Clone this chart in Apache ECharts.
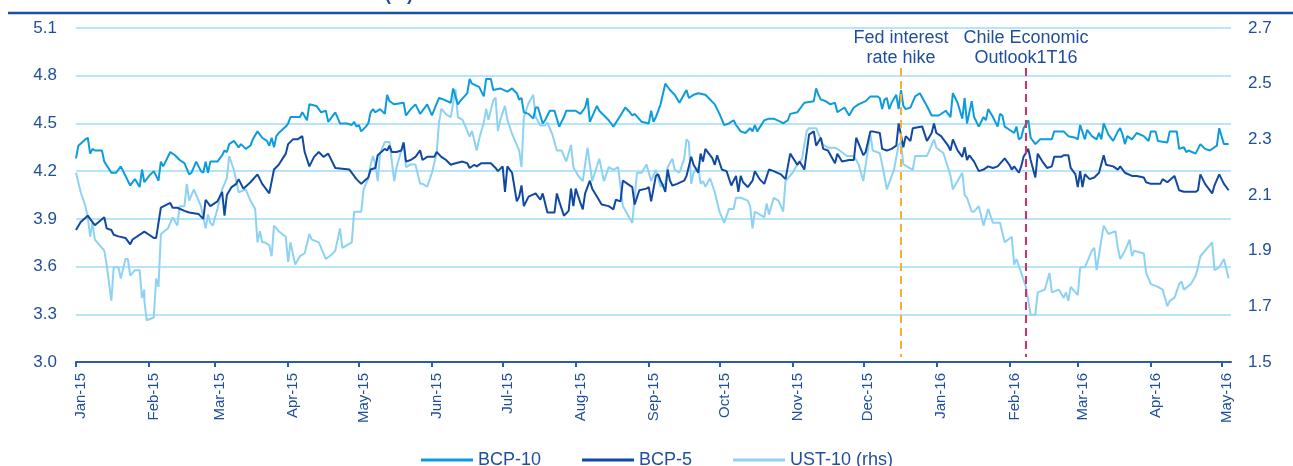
<!DOCTYPE html>
<html>
<head>
<meta charset="utf-8">
<script src="https://cdn.jsdelivr.net/npm/echarts@6/dist/echarts.min.js"></script>
<style>
  html, body { margin: 0; padding: 0; background: #fff; }
  #chart { width: 1293px; height: 466px; }
</style>
</head>
<body>
<div id="chart"></div>
<script>
// x of every point = days since 1 Jan 2015
const bcp10 = [
  [0,4.28],[1,4.36],[4,4.40],[5,4.41],[6,4.31],[7,4.34],[8,4.33],[11,4.33],[12,4.26],[15,4.19],[17,4.19],[19,4.23],[20,4.20],[23,4.11],[25,4.15],[27,4.10],[28,4.21],[29,4.13],[31,4.17],[33,4.20],[35,4.14],[36,4.26],[37,4.23],[40,4.32],[42,4.30],[44,4.27],[46,4.25],[48,4.18],[49,4.19],[51,4.26],[53,4.20],[54,4.19],[55,4.26],[56,4.19],[57,4.26],[60,4.26],[62,4.30],[63,4.33],[64,4.32],[65,4.37],[67,4.39],[69,4.35],[70,4.37],[72,4.34],[74,4.36],[75,4.40],[77,4.45],[79,4.41],[81,4.39],[82,4.36],[83,4.41],[84,4.35],[85,4.42],[86,4.44],[89,4.48],[90,4.50],[91,4.54],[95,4.54],[96,4.57],[98,4.52],[99,4.62],[102,4.61],[104,4.57],[106,4.58],[107,4.51],[110,4.57],[112,4.50],[115,4.50],[117,4.49],[118,4.51],[119,4.48],[120,4.49],[121,4.45],[123,4.48],[124,4.50],
  [125,4.57],[126,4.59],[127,4.57],[129,4.59],[131,4.56],[132,4.68],[133,4.64],[134,4.63],[135,4.62],[139,4.63],[140,4.55],[142,4.59],[144,4.62],[146,4.56],[149,4.62],[151,4.55],[154,4.66],[156,4.65],[159,4.63],[160,4.72],[162,4.62],[163,4.64],[166,4.69],[167,4.78],[168,4.75],[171,4.73],[173,4.67],[174,4.78],[176,4.78],[177,4.71],[180,4.72],[183,4.70],[185,4.72],[187,4.69],[188,4.65],[189,4.66],[190,4.57],[192,4.56],[194,4.53],[195,4.60],[196,4.60],[198,4.50],[199,4.52],[201,4.58],[203,4.58],[205,4.48],[207,4.54],[208,4.58],[212,4.58],[214,4.56],[216,4.60],[217,4.66],[218,4.51],[221,4.61],[222,4.58],[226,4.52],[228,4.48],[231,4.55],[233,4.60],[235,4.57],[236,4.55],[237,4.56],[240,4.51],[243,4.50],[244,4.58],[245,4.51],[246,4.54],[248,4.62],
  [250,4.75],[252,4.71],[254,4.68],[256,4.63],[259,4.71],[260,4.66],[262,4.68],[264,4.69],[267,4.68],[269,4.65],[271,4.62],[273,4.56],[275,4.49],[277,4.50],[279,4.52],[280,4.49],[282,4.45],[284,4.44],[286,4.47],[287,4.45],[288,4.49],[289,4.45],[292,4.52],[294,4.53],[296,4.53],[299,4.51],[300,4.50],[302,4.52],[303,4.56],[306,4.57],[309,4.63],[313,4.64],[314,4.72],[315,4.68],[316,4.65],[318,4.64],[320,4.62],[322,4.63],[323,4.57],[326,4.60],[328,4.55],[330,4.60],[332,4.62],[335,4.64],[337,4.67],[340,4.67],[341,4.66],[342,4.59],[343,4.65],[344,4.66],[345,4.59],[346,4.63],[348,4.68],[349,4.59],[350,4.71],[351,4.61],[352,4.59],[354,4.60],[356,4.67],[358,4.69],[361,4.61],[363,4.55],[366,4.55],[369,4.58],[371,4.54],
  [372,4.69],[374,4.63],[376,4.53],[377,4.66],[378,4.50],[380,4.64],[381,4.54],[383,4.48],[385,4.54],[386,4.52],[387,4.59],[389,4.54],[391,4.48],[392,4.56],[393,4.55],[394,4.48],[396,4.46],[398,4.44],[399,4.48],[400,4.40],[401,4.41],[402,4.47],[404,4.52],[405,4.41],[407,4.37],[409,4.40],[414,4.40],[415,4.45],[419,4.45],[421,4.42],[424,4.41],[425,4.40],[426,4.49],[428,4.40],[429,4.46],[431,4.42],[433,4.40],[434,4.44],[435,4.40],[436,4.50],[438,4.43],[440,4.39],[442,4.45],[443,4.47],[444,4.43],[445,4.37],[446,4.42],[448,4.40],[450,4.44],[453,4.42],[455,4.39],[456,4.45],[458,4.45],[459,4.39],[463,4.38],[464,4.45],[467,4.45],[468,4.34],[470,4.35],[471,4.32],[472,4.33],[475,4.31],[477,4.37],[479,4.34],[481,4.33],[484,4.36],[485,4.47],[487,4.37],[489,4.37]
];
const bcp5 = [
  [0,3.83],[2,3.88],[5,3.92],[6,3.90],[7,3.88],[8,3.86],[12,3.91],[13,3.84],[15,3.83],[16,3.80],[18,3.79],[21,3.78],[23,3.74],[24,3.77],[29,3.82],[31,3.80],[33,3.78],[34,3.78],[36,3.97],[40,4.00],[41,3.97],[43,3.97],[46,3.95],[48,3.94],[52,3.93],[54,3.90],[55,4.02],[57,3.98],[60,4.01],[62,4.07],[63,3.92],[64,4.05],[66,4.10],[68,4.12],[69,4.15],[71,4.09],[74,4.13],[77,4.18],[79,4.12],[82,4.06],[84,4.21],[86,4.24],[89,4.31],[90,4.37],[92,4.40],[94,4.40],[96,4.42],[97,4.32],[99,4.23],[101,4.29],[103,4.32],[105,4.29],[107,4.31],[110,4.22],[116,4.21],[119,4.15],[121,4.12],[124,4.16],
  [125,4.21],[127,4.22],[128,4.30],[131,4.34],[132,4.33],[133,4.36],[134,4.32],[136,4.32],[138,4.33],[139,4.38],[140,4.26],[142,4.27],[144,4.29],[146,4.33],[147,4.27],[149,4.29],[152,4.29],[153,4.32],[155,4.29],[157,4.27],[159,4.24],[161,4.25],[164,4.26],[166,4.25],[167,4.22],[169,4.24],[170,4.23],[172,4.25],[176,4.25],[178,4.22],[179,4.20],[181,4.23],[182,4.07],[183,4.23],[185,4.19],[187,4.01],[188,4.04],[189,4.11],[190,3.98],[192,4.04],[195,4.06],[197,4.02],[198,4.06],[200,3.94],[202,3.94],[203,3.94],[204,4.06],[205,4.01],[207,3.92],[209,3.95],[210,4.09],[211,3.98],[212,4.09],[214,4.00],[215,3.96],[216,4.06],[218,4.14],[219,4.09],[221,4.04],[223,3.99],[226,3.98],[228,3.96],[229,4.02],[231,4.01],[232,4.14],[236,4.10],[237,3.99],[239,4.08],[242,4.09],[243,4.10],[244,4.01],[246,4.17],[247,4.18],
  [248,4.14],[249,4.11],[250,4.07],[251,4.21],[252,4.14],[253,4.11],[255,4.12],[258,4.14],[259,4.17],[261,4.29],[262,4.24],[264,4.19],[265,4.31],[266,4.26],[267,4.34],[270,4.28],[271,4.24],[272,4.30],[274,4.21],[276,4.20],[278,4.11],[280,4.17],[281,4.07],[282,4.17],[283,4.13],[285,4.10],[287,4.14],[288,4.20],[290,4.15],[292,4.12],[294,4.21],[296,4.20],[299,4.18],[301,4.15],[303,4.31],[306,4.24],[307,4.26],[309,4.21],[311,4.43],[313,4.45],[314,4.36],[316,4.41],[317,4.34],[319,4.33],[322,4.25],[323,4.31],[325,4.26],[328,4.27],[330,4.27],[331,4.41],[334,4.30],[335,4.32],[337,4.45],[338,4.45],[341,4.44],[342,4.34],[344,4.33],[346,4.34],[348,4.36],[349,4.50],[351,4.35],[352,4.42],[354,4.39],[355,4.47],[359,4.48],[361,4.39],[363,4.44],[364,4.50],[365,4.44],[367,4.42],[370,4.36],[371,4.33],
  [372,4.40],[374,4.33],[376,4.29],[377,4.35],[378,4.27],[379,4.30],[381,4.26],[383,4.20],[385,4.21],[387,4.23],[389,4.22],[391,4.23],[394,4.28],[396,4.24],[397,4.21],[398,4.23],[400,4.19],[401,4.23],[402,4.29],[404,4.34],[405,4.27],[407,4.16],[408,4.31],[410,4.26],[412,4.22],[414,4.23],[415,4.29],[418,4.29],[419,4.30],[421,4.30],[422,4.22],[424,4.18],[425,4.10],[426,4.20],[427,4.10],[428,4.18],[430,4.15],[432,4.16],[434,4.19],[436,4.30],[437,4.24],[440,4.23],[442,4.21],[443,4.23],[445,4.19],[448,4.17],[450,4.17],[453,4.16],[454,4.13],[456,4.12],[460,4.12],[461,4.15],[463,4.13],[466,4.17],[468,4.08],[470,4.07],[473,4.07],[475,4.07],[476,4.08],[477,4.18],[479,4.12],[482,4.06],[483,4.11],[485,4.18],[487,4.12],[489,4.08]
];
const ust10 = [
  [0,2.18],[2,2.11],[4,2.06],[5,2.02],[6,1.95],[7,2.00],[8,1.94],[12,1.90],[13,1.85],[15,1.72],[16,1.84],[18,1.84],[19,1.80],[21,1.87],[22,1.87],[23,1.81],[25,1.83],[27,1.83],[28,1.73],[29,1.76],[29,1.72],[30,1.65],[33,1.66],[34,1.80],[35,1.77],[36,1.96],[39,1.98],[41,2.02],[43,1.99],[44,2.06],[46,2.06],[47,2.14],[48,2.08],[50,2.12],[53,2.06],[55,1.98],[56,2.03],[57,2.00],[58,1.99],[60,2.05],[62,2.12],[64,2.16],[65,2.24],[67,2.19],[69,2.11],[72,2.12],[74,2.08],[76,2.05],[77,1.93],[78,1.97],[79,1.93],[80,1.93],[82,1.92],[83,1.88],[84,1.99],[86,1.97],[89,1.95],[90,1.86],[91,1.93],[93,1.85],[95,1.88],[97,1.89],[99,1.96],[100,1.94],[103,1.93],[105,1.89],[106,1.87],[109,1.89],[110,1.90],[112,1.98],[113,1.91],[117,1.93],[118,2.04],[121,2.04],[122,2.12],[124,2.16],[125,2.21],
  [126,2.24],[127,2.21],[128,2.15],[129,2.25],[131,2.29],[133,2.29],[135,2.15],[136,2.20],[138,2.26],[139,2.29],[140,2.20],[142,2.21],[144,2.21],[146,2.14],[147,2.14],[149,2.13],[151,2.18],[153,2.25],[154,2.36],[155,2.41],[157,2.39],[159,2.38],[161,2.48],[162,2.38],[164,2.37],[165,2.35],[167,2.31],[168,2.33],[170,2.26],[171,2.30],[173,2.36],[174,2.41],[175,2.37],[177,2.44],[178,2.45],[179,2.33],[180,2.37],[182,2.42],[183,2.37],[185,2.32],[188,2.26],[189,2.20],[190,2.38],[192,2.43],[194,2.46],[195,2.38],[197,2.35],[199,2.35],[200,2.36],[202,2.32],[204,2.26],[206,2.26],[208,2.22],[210,2.28],[211,2.20],[213,2.17],[215,2.15],[217,2.27],[219,2.15],[222,2.23],[224,2.15],[226,2.20],[228,2.19],[230,2.20],[231,2.13],[232,2.06],[234,2.03],[236,2.00],[238,2.18],[240,2.18],[242,2.21],[244,2.15],[246,2.19],[248,2.13],
  [250,2.14],[251,2.20],[253,2.23],[254,2.19],[256,2.18],[258,2.23],[259,2.30],[260,2.29],[261,2.14],[262,2.18],[264,2.20],[265,2.14],[266,2.15],[267,2.13],[269,2.16],[271,2.11],[273,2.04],[275,2.00],[277,2.05],[279,2.05],[280,2.09],[282,2.09],[285,2.08],[286,2.06],[287,1.98],[288,2.04],[290,2.03],[292,2.02],[293,2.07],[294,2.03],[296,2.09],[298,2.08],[300,2.04],[301,2.15],[303,2.17],[304,2.18],[306,2.21],[308,2.23],[310,2.33],[311,2.34],[314,2.34],[315,2.32],[317,2.28],[319,2.27],[322,2.27],[324,2.26],[327,2.24],[330,2.24],[332,2.21],[334,2.15],[337,2.32],[338,2.26],[341,2.25],[342,2.21],[344,2.12],[347,2.19],[349,2.28],[350,2.29],[351,2.21],[353,2.20],[355,2.19],[356,2.24],[361,2.24],[364,2.30],[365,2.27],[368,2.25],[371,2.17],
  [372,2.12],[374,2.15],[376,2.18],[377,2.10],[378,2.09],[380,2.04],[381,2.04],[383,2.06],[385,1.99],[387,2.05],[389,2.00],[392,2.00],[394,1.93],[397,1.95],[398,1.85],[399,1.87],[401,1.82],[403,1.77],[404,1.72],[405,1.67],[407,1.67],[408,1.75],[411,1.76],[413,1.82],[414,1.75],[417,1.76],[419,1.73],[420,1.75],[421,1.72],[422,1.77],[425,1.74],[426,1.84],[428,1.84],[429,1.86],[431,1.90],[432,1.91],[433,1.83],[435,1.94],[436,1.99],[438,1.96],[441,1.97],[442,1.91],[443,1.87],[445,1.90],[447,1.94],[448,1.88],[449,1.90],[453,1.89],[454,1.82],[456,1.78],[459,1.77],[461,1.76],[462,1.73],[463,1.70],[464,1.72],[466,1.73],[468,1.78],[469,1.79],[470,1.76],[473,1.78],[475,1.81],[476,1.84],[477,1.88],[482,1.93],[483,1.83],[485,1.84],[487,1.87],[489,1.80]
];

const leftTicks = [3.0, 3.3, 3.6, 3.9, 4.2, 4.5, 4.8, 5.1];
const rightTicks = [1.5, 1.7, 1.9, 2.1, 2.3, 2.5, 2.7];
const monthNames = ['Jan','Feb','Mar','Apr','May','Jun','Jul','Aug','Sep','Oct','Nov','Dec'];
const events = [
  { date: '2015-12-17', text: 'Fed interest\nrate hike', color: '#f7b030' },
  { date: '2016-02-08', text: 'Chile Economic\nOutlook1T16', color: '#d62f62' }
];

// one category per calendar day, 1 Jan 2015 .. 5 May 2016
const days = [];
for (let i = 0; i < 491; i++) {
  const d = new Date(Date.UTC(2015, 0, 1) + i * 86400000);
  days.push(d.toISOString().slice(0, 10));
}
const isMonthStart = (idx) => days[idx].slice(8) === '01';
const monthLabel = (v) => monthNames[+v.slice(5, 7) - 1] + '-' + v.slice(2, 4);

const textColor = '#1f4e9c';
const font = 'Liberation Sans, Arial, sans-serif';
const toSeries = (arr) => arr.map(p => [days[p[0]], p[1]]);

const chart = echarts.init(document.getElementById('chart'));
const option = {
  animation: false,
  textStyle: { fontFamily: font },
  grid: { left: 76, right: 62, top: 28, bottom: 104 },
  legend: {
    data: ['BCP-10', 'BCP-5', 'UST-10 (rhs)'],
    left: 416, top: 446,
    icon: 'rect', itemWidth: 52, itemHeight: 3, itemGap: 41,
    textStyle: { color: textColor, fontSize: 18, fontFamily: font }
  },
  xAxis: {
    type: 'category',
    data: days,
    boundaryGap: false,
    axisLine: { lineStyle: { color: '#2a5cab', width: 2 } },
    axisTick: { interval: isMonthStart, length: 5, lineStyle: { color: '#2a5cab', width: 2 } },
    axisLabel: {
      interval: isMonthStart, rotate: 90, margin: 11,
      verticalAlign: 'top', lineHeight: 10,
      color: textColor, fontSize: 15, fontFamily: font,
      formatter: monthLabel
    },
    splitLine: { show: false }
  },
  yAxis: [
    {
      type: 'value',
      min: leftTicks[0], max: leftTicks[leftTicks.length - 1],
      interval: +(leftTicks[1] - leftTicks[0]).toFixed(2),
      axisLine: { show: false }, axisTick: { show: false },
      axisLabel: { color: textColor, fontSize: 17, margin: 19, formatter: v => v.toFixed(1) },
      splitLine: { lineStyle: { color: '#b7e4f8', width: 2 } }
    },
    {
      type: 'value',
      min: rightTicks[0], max: rightTicks[rightTicks.length - 1],
      interval: +(rightTicks[1] - rightTicks[0]).toFixed(2),
      axisLine: { show: false }, axisTick: { show: false },
      axisLabel: { color: textColor, fontSize: 17, margin: 17, formatter: v => v.toFixed(1) },
      splitLine: { show: false }
    }
  ],
  series: [
    {
      name: 'UST-10 (rhs)', type: 'line', yAxisIndex: 1, symbol: 'none',
      lineStyle: { color: '#8dd2f2', width: 2 }, itemStyle: { color: '#8dd2f2' },
      data: toSeries(ust10),
      markLine: {
        silent: true, symbol: 'none', label: { show: false },
        data: events.map(e => [
          { xAxis: e.date, yAxis: 2.556, lineStyle: { color: e.color, width: 2, type: [8, 5] } },
          { xAxis: e.date, yAxis: 1.518 }
        ])
      }
    },
    {
      name: 'BCP-10', type: 'line', symbol: 'none',
      lineStyle: { color: '#0c9cdc', width: 2 }, itemStyle: { color: '#0c9cdc' },
      data: toSeries(bcp10)
    },
    {
      name: 'BCP-5', type: 'line', symbol: 'none',
      lineStyle: { color: '#1249a0', width: 2 }, itemStyle: { color: '#1249a0' },
      data: toSeries(bcp5)
    }
  ]
};
chart.setOption(option);

// title rule, cut-off unit and event notes
const notes = events.map(e => ({
  type: 'text',
  x: chart.convertToPixel({ xAxisIndex: 0 }, e.date),
  y: 28,
  style: {
    text: e.text, fill: textColor, font: '18px ' + font,
    align: 'center', verticalAlign: 'top', lineHeight: 20
  }
}));
chart.setOption({
  graphic: [
    { type: 'line', shape: { x1: 8, y1: 13, x2: 1293, y2: 13 }, style: { stroke: '#1b4f9c', lineWidth: 2.5 } },
    { type: 'text', x: 385, y: -14, style: { text: '(%)', fill: '#1b4f9c', font: 'bold 18px ' + font } },
    ...notes
  ]
});
</script>
</body>
</html>
